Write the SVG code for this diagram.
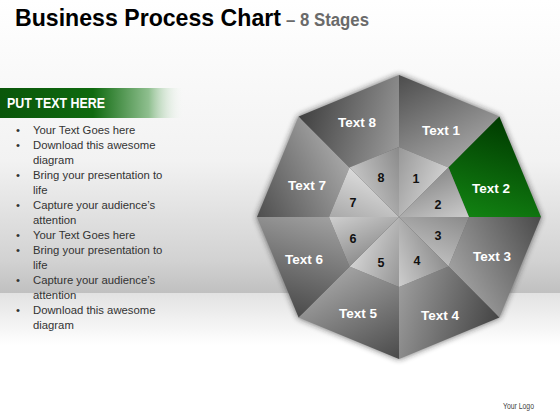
<svg xmlns="http://www.w3.org/2000/svg" width="560" height="420" viewBox="0 0 560 420">
<defs>
<style>
.title{font-family:"Liberation Sans",Arial,sans-serif;font-weight:bold}
.sub{font-family:"Liberation Sans",Arial,sans-serif;font-weight:bold;fill:#6a6a6a}
.bul{font-family:"Liberation Sans",Arial,sans-serif;font-size:11.3px;fill:#333}
.lbl{font-family:"Liberation Sans",Arial,sans-serif;font-weight:bold;font-size:13.5px;fill:#fff;text-anchor:middle}
.num{font-family:"Liberation Sans",Arial,sans-serif;font-weight:bold;font-size:12.5px;fill:#111;text-anchor:middle}
</style>
<linearGradient id="bgTop" x1="0" y1="0" x2="0" y2="293" gradientUnits="userSpaceOnUse">
<stop offset="0" stop-color="#ffffff"/><stop offset="0.55" stop-color="#f2f2f2"/><stop offset="0.89" stop-color="#d2d2d2"/><stop offset="1" stop-color="#c0c0c0"/>
</linearGradient>
<linearGradient id="bgBot" x1="0" y1="293" x2="0" y2="345" gradientUnits="userSpaceOnUse">
<stop offset="0" stop-color="#e2e2e2"/><stop offset="1" stop-color="#ffffff"/>
</linearGradient>
<linearGradient id="hdr" x1="0" y1="0" x2="1" y2="0">
<stop offset="0" stop-color="#0a560a"/><stop offset="0.5" stop-color="#0f6a0f"/><stop offset="0.8" stop-color="#8fbf8f"/><stop offset="1" stop-color="#ffffff" stop-opacity="0"/>
</linearGradient>
<filter id="blur" x="-20%" y="-20%" width="140%" height="140%"><feGaussianBlur stdDeviation="3"/></filter>
<linearGradient id="o1" gradientUnits="userSpaceOnUse" x1="399" y1="75" x2="448.5" y2="167.5"><stop offset="0" stop-color="#4c4c4c"/><stop offset="1" stop-color="#a4a4a4"/></linearGradient>
<linearGradient id="o2" gradientUnits="userSpaceOnUse" x1="499.4" y1="116.6" x2="469" y2="217"><stop offset="0" stop-color="#003a00"/><stop offset="1" stop-color="#128212"/></linearGradient>
<linearGradient id="o3" gradientUnits="userSpaceOnUse" x1="541" y1="217" x2="448.5" y2="266.5"><stop offset="0" stop-color="#4a4a4a"/><stop offset="1" stop-color="#a0a0a0"/></linearGradient>
<linearGradient id="o4" gradientUnits="userSpaceOnUse" x1="499.4" y1="317.4" x2="399" y2="287"><stop offset="0" stop-color="#444444"/><stop offset="1" stop-color="#9c9c9c"/></linearGradient>
<linearGradient id="o5" gradientUnits="userSpaceOnUse" x1="399" y1="359" x2="349.5" y2="266.5"><stop offset="0" stop-color="#4a4a4a"/><stop offset="1" stop-color="#a2a2a2"/></linearGradient>
<linearGradient id="o6" gradientUnits="userSpaceOnUse" x1="298.6" y1="317.4" x2="329" y2="217"><stop offset="0" stop-color="#4a4a4a"/><stop offset="1" stop-color="#a0a0a0"/></linearGradient>
<linearGradient id="o7" gradientUnits="userSpaceOnUse" x1="257" y1="217" x2="349.5" y2="167.5"><stop offset="0" stop-color="#4e4e4e"/><stop offset="1" stop-color="#a6a6a6"/></linearGradient>
<linearGradient id="o8" gradientUnits="userSpaceOnUse" x1="298.6" y1="116.6" x2="399" y2="147"><stop offset="0" stop-color="#404040"/><stop offset="1" stop-color="#999999"/></linearGradient>
<linearGradient id="i1" gradientUnits="userSpaceOnUse" x1="399" y1="147" x2="448.5" y2="167.5"><stop offset="0" stop-color="#989898"/><stop offset="1" stop-color="#d0d0d0"/></linearGradient>
<linearGradient id="i2" gradientUnits="userSpaceOnUse" x1="448.5" y1="167.5" x2="469" y2="217"><stop offset="0" stop-color="#8c8c8c"/><stop offset="1" stop-color="#cccccc"/></linearGradient>
<linearGradient id="i3" gradientUnits="userSpaceOnUse" x1="469" y1="217" x2="448.5" y2="266.5"><stop offset="0" stop-color="#8a8a8a"/><stop offset="1" stop-color="#bdbdbd"/></linearGradient>
<linearGradient id="i4" gradientUnits="userSpaceOnUse" x1="448.5" y1="266.5" x2="399" y2="287"><stop offset="0" stop-color="#8e8e8e"/><stop offset="1" stop-color="#cdcdcd"/></linearGradient>
<linearGradient id="i5" gradientUnits="userSpaceOnUse" x1="399" y1="287" x2="349.5" y2="266.5"><stop offset="0" stop-color="#959595"/><stop offset="1" stop-color="#d2d2d2"/></linearGradient>
<linearGradient id="i6" gradientUnits="userSpaceOnUse" x1="349.5" y1="266.5" x2="329" y2="217"><stop offset="0" stop-color="#8e8e8e"/><stop offset="1" stop-color="#cfcfcf"/></linearGradient>
<linearGradient id="i7" gradientUnits="userSpaceOnUse" x1="329" y1="217" x2="349.5" y2="167.5"><stop offset="0" stop-color="#a8a8a8"/><stop offset="1" stop-color="#dadada"/></linearGradient>
<linearGradient id="i8" gradientUnits="userSpaceOnUse" x1="349.5" y1="167.5" x2="399" y2="147"><stop offset="0" stop-color="#c4c4c4"/><stop offset="1" stop-color="#8a8a8a"/></linearGradient>
</defs>

<rect x="0" y="0" width="560" height="420" fill="#ffffff"/>
<rect x="0" y="0" width="560" height="293" fill="url(#bgTop)"/>
<rect x="0" y="293" width="560" height="52" fill="url(#bgBot)"/>

<text class="title" x="15" y="26" font-size="24" textLength="266" lengthAdjust="spacingAndGlyphs">Business Process Chart</text>
<text class="sub" x="286" y="26" font-size="18" textLength="83" lengthAdjust="spacingAndGlyphs">– 8 Stages</text>

<g id="header">
<rect x="0" y="88" width="186" height="30" fill="url(#hdr)"/>
<text x="7" y="108" font-family="Liberation Sans,Arial,sans-serif" font-weight="bold" font-size="14" fill="#ffffff" textLength="98" lengthAdjust="spacingAndGlyphs">PUT TEXT HERE</text>
</g>

<g id="bullets" class="bul">
<text x="16" y="134">•</text><text x="33" y="134">Your Text Goes here</text>
<text x="16" y="149">•</text><text x="33" y="149">Download this awesome</text>
<text x="33" y="164">diagram</text>
<text x="16" y="179">•</text><text x="33" y="179">Bring your presentation to</text>
<text x="33" y="194">life</text>
<text x="16" y="209">•</text><text x="33" y="209">Capture your audience’s</text>
<text x="33" y="224">attention</text>
<text x="16" y="239">•</text><text x="33" y="239">Your Text Goes here</text>
<text x="16" y="254">•</text><text x="33" y="254">Bring your presentation to</text>
<text x="33" y="269">life</text>
<text x="16" y="284">•</text><text x="33" y="284">Capture your audience’s</text>
<text x="33" y="299">attention</text>
<text x="16" y="314">•</text><text x="33" y="314">Download this awesome</text>
<text x="33" y="329">diagram</text>
</g>

<polygon points="399,75 499.4,116.6 541,217 499.4,317.4 399,359 298.6,317.4 257,217 298.6,116.6" fill="#222" opacity="0.7" filter="url(#blur)"/>

<g id="connectors"></g>

<g id="stage1">
<polygon points="399,75 499.4,116.6 448.5,167.5 399,147" fill="url(#o1)"/>
<polygon points="399,217 399,147 448.5,167.5" fill="url(#i1)"/>
<text class="lbl" x="441" y="135">Text 1</text>
<text class="num" x="416" y="183">1</text>
</g>
<g id="stage2">
<polygon points="499.4,116.6 541,217 469,217 448.5,167.5" fill="url(#o2)"/>
<polygon points="399,217 448.5,167.5 469,217" fill="url(#i2)"/>
<text class="lbl" x="491" y="193">Text 2</text>
<text class="num" x="438" y="209">2</text>
</g>
<g id="stage3">
<polygon points="541,217 499.4,317.4 448.5,266.5 469,217" fill="url(#o3)"/>
<polygon points="399,217 469,217 448.5,266.5" fill="url(#i3)"/>
<text class="lbl" x="492" y="261">Text 3</text>
<text class="num" x="438" y="240">3</text>
</g>
<g id="stage4">
<polygon points="499.4,317.4 399,359 399,287 448.5,266.5" fill="url(#o4)"/>
<polygon points="399,217 448.5,266.5 399,287" fill="url(#i4)"/>
<text class="lbl" x="440" y="320">Text 4</text>
<text class="num" x="417" y="265">4</text>
</g>
<g id="stage5">
<polygon points="399,359 298.6,317.4 349.5,266.5 399,287" fill="url(#o5)"/>
<polygon points="399,217 399,287 349.5,266.5" fill="url(#i5)"/>
<text class="lbl" x="358" y="318">Text 5</text>
<text class="num" x="381" y="267">5</text>
</g>
<g id="stage6">
<polygon points="298.6,317.4 257,217 329,217 349.5,266.5" fill="url(#o6)"/>
<polygon points="399,217 349.5,266.5 329,217" fill="url(#i6)"/>
<text class="lbl" x="304" y="264">Text 6</text>
<text class="num" x="353" y="243">6</text>
</g>
<g id="stage7">
<polygon points="257,217 298.6,116.6 349.5,167.5 329,217" fill="url(#o7)"/>
<polygon points="399,217 329,217 349.5,167.5" fill="url(#i7)"/>
<text class="lbl" x="307" y="190">Text 7</text>
<text class="num" x="353" y="207">7</text>
</g>
<g id="stage8">
<polygon points="298.6,116.6 399,75 399,147 349.5,167.5" fill="url(#o8)"/>
<polygon points="399,217 349.5,167.5 399,147" fill="url(#i8)"/>
<text class="lbl" x="357" y="127">Text 8</text>
<text class="num" x="381" y="182">8</text>
</g>

<text x="503" y="409" font-family="Liberation Sans,Arial,sans-serif" font-size="8.5" fill="#444" textLength="31" lengthAdjust="spacingAndGlyphs">Your Logo</text>
</svg>
